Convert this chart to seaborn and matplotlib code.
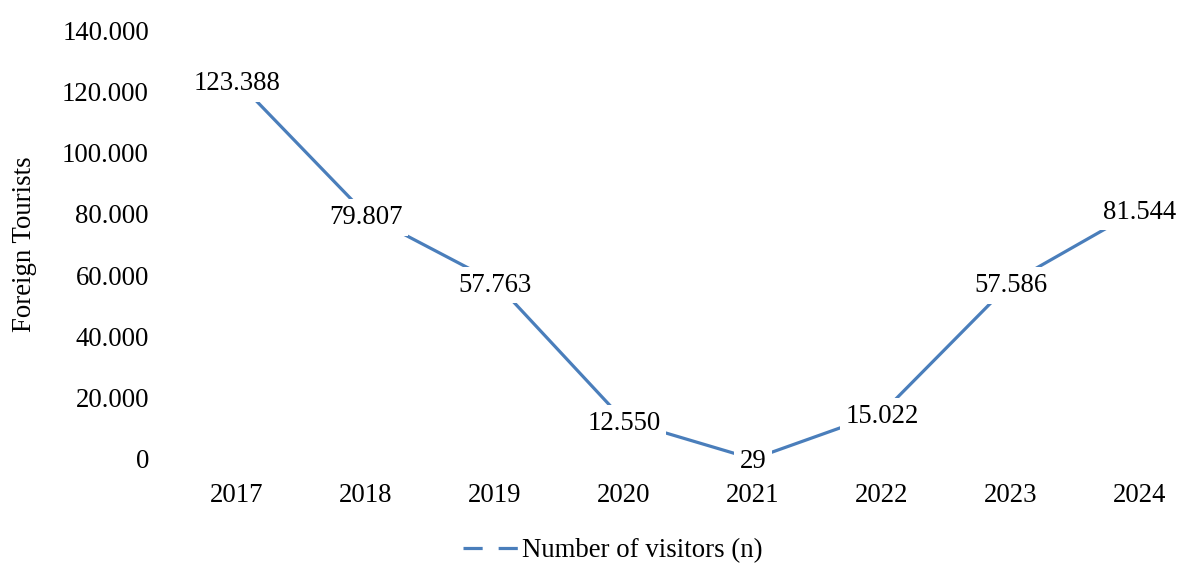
import matplotlib
matplotlib.use("Agg")
import matplotlib.pyplot as plt
import seaborn as sns
import pandas as pd
from matplotlib.lines import Line2D
from matplotlib.ticker import FuncFormatter

years = ["2017", "2018", "2019", "2020", "2021", "2022", "2023", "2024"]
visitors = [123388, 79807, 57763, 12550, 29, 15022, 57586, 81544]
y_ticks = [0, 20000, 40000, 60000, 80000, 100000, 120000, 140000]
series_name = "Number of visitors (n)"
y_title = "Foreign Tourists"

sns.set_theme(style="white")
plt.rcParams["font.family"] = ["Liberation Serif", "DejaVu Serif"]
plt.rcParams["text.color"] = "black"

W, H = 1178, 563
fig = plt.figure(figsize=(W / 100, H / 100), dpi=100)
ax_left, ax_right, ax_top, ax_bottom = 160, 1178, 30, 459
ax = fig.add_axes([ax_left / W, (H - ax_bottom) / H, (ax_right - ax_left) / W, (ax_bottom - ax_top) / H])

color = "#4A7EBB"
df = pd.DataFrame({"year": years, "visitors": visitors})
sns.lineplot(data=df, x="year", y="visitors", ax=ax, color=color, linewidth=2.3, sort=False)

x0_px, x7_px = 237, 1140
step = (x7_px - x0_px) / 7
ax.set_xlim(-(x0_px - ax_left) / step, 7 + (ax_right - x7_px) / step)
ax.set_ylim(0, 140000)
ax.set_yticks(y_ticks)
ax.yaxis.set_major_formatter(FuncFormatter(lambda v, p: f"{int(v):,}".replace(",", ".")))

fs = 19.3
for i, v in enumerate(visitors):
    ax.annotate(f"{v:,}".replace(",", "."), xy=(i, v), xytext=(0, -2.2), textcoords="offset points",
                ha="center", va="center", fontsize=fs, color="black",
                bbox=dict(facecolor="white", edgecolor="none", pad=4), zorder=5)

ax.tick_params(axis="both", length=0, labelsize=fs, colors="black")
ax.tick_params(axis="x", pad=17)
ax.tick_params(axis="y", pad=8)
for s in ax.spines.values():
    s.set_visible(False)
ax.set_xlabel("")
ax.set_ylabel(y_title, fontsize=fs, color="black", labelpad=18)

handle = Line2D([], [], color=color, linewidth=2.3, linestyle=(0, (6, 5)))
fig.legend([handle], [series_name], loc="center", bbox_to_anchor=(0.52, (H - 551) / H),
           frameon=False, fontsize=fs, handlelength=2.2, handletextpad=0.0, labelcolor="black")

fig.savefig("out.png", dpi=100)
